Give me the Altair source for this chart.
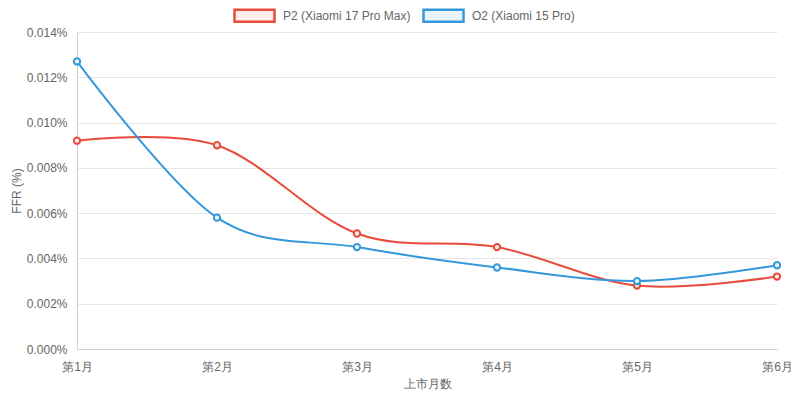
import altair as alt
import pandas as pd

months = ["第1月", "第2月", "第3月", "第4月", "第5月", "第6月"]
series_names = ["P2 (Xiaomi 17 Pro Max)", "O2 (Xiaomi 15 Pro)"]
p2_values = [0.0092, 0.0090, 0.0051, 0.0045, 0.0028, 0.0032]
o2_values = [0.0127, 0.0058, 0.0045, 0.0036, 0.0030, 0.0037]
y_ticks = [0, 0.002, 0.004, 0.006, 0.008, 0.010, 0.012, 0.014]

line_colors = ["#e74c3c", "#3498db"]
fill_colors = ["#fdecea", "#eaf5fb"]

rows = []
for m, v in zip(months, p2_values):
    rows.append({"month": m, "series": series_names[0], "value": v})
for m, v in zip(months, o2_values):
    rows.append({"month": m, "series": series_names[1], "value": v})
df = pd.DataFrame(rows)

FONT = "Liberation Sans, Arial, Helvetica, sans-serif"

x_enc = alt.X("month:O", sort=months, scale=alt.Scale(padding=0),
              axis=alt.Axis(title="上市月数", labelAngle=0, labelPadding=12,
                            titlePadding=6, ticks=False, grid=False))
y_enc = alt.Y("value:Q", scale=alt.Scale(domain=[0, 0.014], nice=False),
              axis=alt.Axis(title="FFR (%)", values=y_ticks,
                            labelExpr="format(datum.value, '.3f') + '%'",
                            labelPadding=10, titlePadding=3, ticks=False,
                            grid=True))

legend = alt.Legend(title=None, orient="none", legendX=156, legendY=-38,
                    direction="horizontal",
                    symbolType="M-1,-0.3H1V0.3H-1Z", symbolSize=1600,
                    symbolStrokeWidth=2.5, labelOffset=7, columnPadding=7,
                    labelFontSize=12, labelColor="#666", labelFont=FONT)

stroke_enc = alt.Stroke("series:N", sort=series_names,
                        scale=alt.Scale(domain=series_names, range=line_colors),
                        legend=legend)
fill_enc = alt.Fill("series:N", sort=series_names,
                    scale=alt.Scale(domain=series_names, range=fill_colors),
                    legend=legend)

lines = alt.Chart(df).mark_line(interpolate="cardinal", strokeWidth=2).encode(
    x=x_enc, y=y_enc, stroke=stroke_enc, detail="series:N")
points = alt.Chart(df).mark_point(filled=True, size=40, strokeWidth=2, opacity=1).encode(
    x=x_enc, y=y_enc, stroke=stroke_enc, fill=fill_enc)

chart = (lines + points).properties(
    width=700, height=317,
    autosize=alt.AutoSizeParams(type="none"),
    padding={"left": 69, "top": 24, "right": 15, "bottom": 44},
).configure_view(stroke=None).configure_axis(
    labelFont=FONT, titleFont=FONT, labelFontSize=12, titleFontSize=12,
    labelColor="#666", titleColor="#666", titleFontWeight="normal",
    gridColor="#e6e6e6", domainColor="#d0d0d0",
)

chart.save("out.html", embed_options={"renderer": "svg", "actions": False})
